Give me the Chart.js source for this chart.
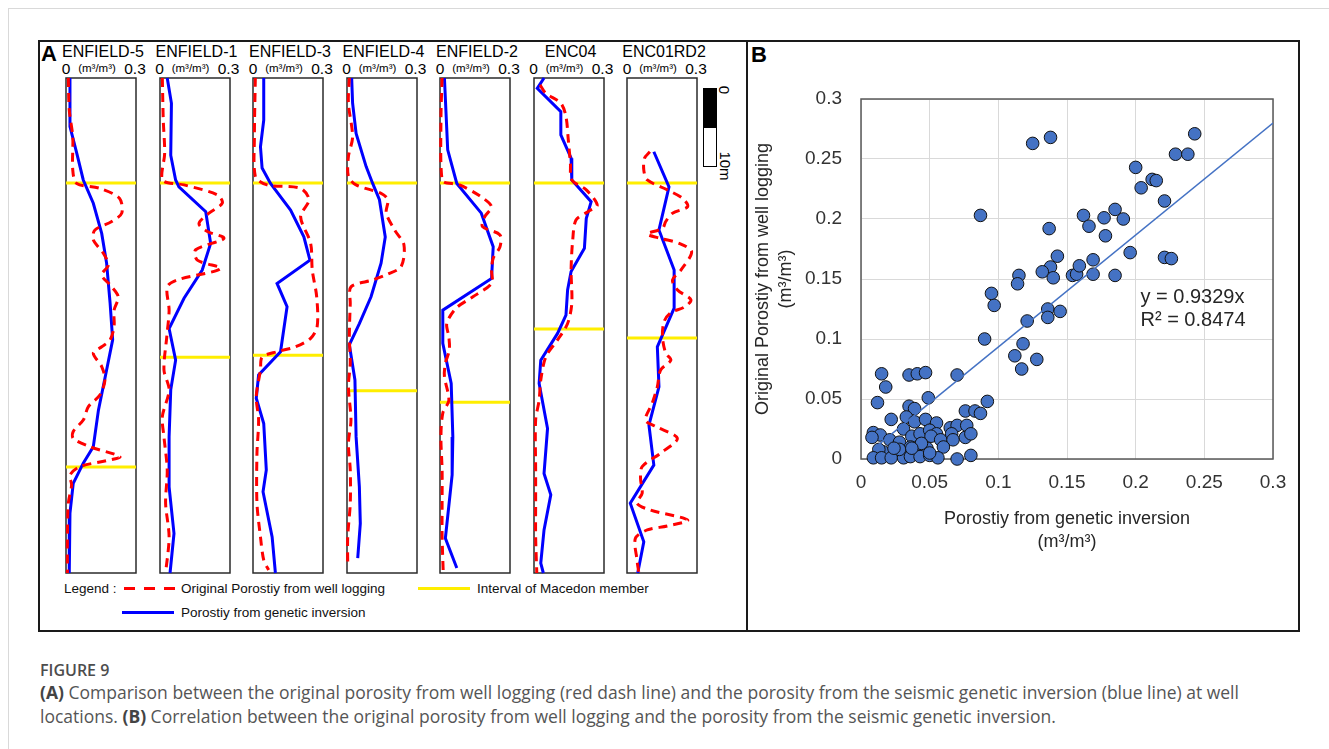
<!DOCTYPE html>
<html>
<head>
<meta charset="utf-8">
<script src="https://cdn.jsdelivr.net/npm/chart.js@4.4.1/dist/chart.umd.min.js"></script>
<style>
  html, body { margin: 0; padding: 0; background: #fff; }
  body { width: 1329px; height: 749px; position: relative; overflow: hidden; font-family: 'Liberation Sans', Arial, sans-serif; color: #000; }
  .abs { position: absolute; }
  .ctr { position: absolute; transform: translate(-50%, -50%); white-space: nowrap; line-height: 1; }
  .lft { position: absolute; transform: translateY(-50%); white-space: nowrap; line-height: 1; }
  .page-edge { left: 8px; top: 8px; right: 0; bottom: 0; border-left: 1px solid #d9d9d9; border-top: 1px solid #d9d9d9; }
  .fig-box { left: 38px; top: 40px; width: 1262px; height: 592px; border: 2px solid #1a1a1a; box-sizing: border-box; }
  .divider { left: 746px; top: 40px; width: 2px; height: 592px; background: #1a1a1a; }
  .tag { font-weight: bold; font-size: 22px; }
  .well-name { font-size: 16px; }
  .well-tick { font-size: 15.5px; }
  .well-unit { font-size: 11.5px; }
  .legend { font-size: 13.5px; color: #111; }
  .scalebar { left: 703px; top: 88px; width: 14px; height: 79px; border: 1.5px solid #000; box-sizing: border-box; }
  .scalebar div { width: 100%; height: 50%; background: #000; }
  .rot { font-size: 15px; }
  .caption-head { left: 40px; top: 659px; font-family: 'Open Sans', sans-serif; font-weight: 600; font-size: 16px; color: #4d4d4d; }
  .caption { left: 40px; top: 680px; font-family: 'Open Sans', sans-serif; font-size: 17.5px; line-height: 24px; color: #555; white-space: nowrap; }
  .caption b { color: #444; }
  canvas { position: absolute; }
</style>
</head>
<body>
<div class="abs page-edge"></div>
<div class="abs fig-box"></div>
<div class="abs divider"></div>
<div class="lft tag" style="left:41px;top:54px;">A</div>
<div class="lft tag" style="left:751px;top:55px;">B</div>

<div class="abs scalebar"><div></div></div>
<div class="ctr rot" style="left:724px;top:90px;transform:translate(-50%,-50%) rotate(90deg);">0</div>
<div class="ctr rot" style="left:725px;top:166px;transform:translate(-50%,-50%) rotate(90deg);">10m</div>

<div class="lft legend" style="left:64px;top:589px;">Legend :</div>
<div class="abs" style="left:124px;top:587px;width:54px;height:3px;background:repeating-linear-gradient(90deg,#ff0000 0 11px,transparent 11px 20px);"></div>
<div class="lft legend" style="left:181px;top:589px;">Original Porostiy from well logging</div>
<div class="abs" style="left:418px;top:587px;width:52px;height:3px;background:#ffee00;"></div>
<div class="lft legend" style="left:477px;top:589px;">Interval of Macedon member</div>
<div class="abs" style="left:122px;top:611px;width:52px;height:3px;background:#0000ff;"></div>
<div class="lft legend" style="left:181px;top:613px;">Porostiy from genetic inversion</div>

<div class="abs caption-head">FIGURE 9</div>
<div class="abs caption"><b>(A)</b> Comparison between the original porosity from well logging (red dash line) and the porosity from the seismic genetic inversion (blue line) at well<br>locations. <b>(B)</b> Correlation between the original porosity from well logging and the porosity from the seismic genetic inversion.</div>

<canvas id="scatter" width="549" height="492" style="left:750px;top:68px;"></canvas>

<script>
'use strict';

// ----------------------------
// Panel A data (depth is relative: 0 = top of track, 100 = bottom)
// ----------------------------
var WELLS = ['ENFIELD-5', 'ENFIELD-1', 'ENFIELD-3', 'ENFIELD-4', 'ENFIELD-2', 'ENC04', 'ENC01RD2'];
var PHI_RANGE = [0, 0.3];
var PHI_TICK_LABELS = ['0', '0.3'];
var PHI_UNIT = '(m\u00b3/m\u00b3)';
var DEPTH_RANGE = [0, 100];

var MACEDON_TOP = [21.2, 21.2, 21.2, 21.2, 21.2, 21.2, 21.2];
var MACEDON_BASE = [78.6, 56.4, 56.0, 63.2, 65.5, 50.7, 52.5];

// ENFIELD-5
var E5_INV_DEPTH = [0, 9.8, 15.2, 20.6, 25.3, 31.4, 37.4, 45.5, 52.9, 59.0, 67.1, 74.5, 77.8, 81.9, 87.9, 100];
var E5_INV_PHI = [0.017, 0.017, 0.046, 0.074, 0.117, 0.153, 0.174, 0.189, 0.200, 0.174, 0.139, 0.117, 0.074, 0.031, 0.017, 0.014];
var E5_LOG_DEPTH = [0, 6.5, 11.9, 18.6, 21.3, 22.3, 24.3, 27.3, 29.0, 30.7, 32.7, 35.4, 37.8, 39.8, 41.8, 44.2, 46.9, 50.2, 52.9, 54.3, 55.6, 58.3, 61.0, 64.0, 66.4, 69.1, 71.4, 72.8, 74.5, 76.5, 77.3, 78.5, 80.2, 82.2, 85.9, 92.7, 100];
var E5_LOG_PHI = [0.010, 0.014, 0.029, 0.029, 0.046, 0.146, 0.229, 0.239, 0.196, 0.124, 0.117, 0.160, 0.181, 0.153, 0.189, 0.224, 0.206, 0.206, 0.189, 0.153, 0.117, 0.153, 0.167, 0.146, 0.096, 0.074, 0.031, 0.031, 0.103, 0.231, 0.174, 0.060, 0.017, 0.024, 0.010, 0.006, 0.006];

// ENFIELD-1
var E1_INV_DEPTH = [0, 5.1, 15.6, 20.6, 22.0, 27.0, 33.4, 38.8, 44.5, 50.6, 57.0, 63.0, 72.5, 82.6, 92.0, 100];
var E1_INV_PHI = [0.031, 0.049, 0.046, 0.067, 0.081, 0.196, 0.217, 0.181, 0.103, 0.039, 0.067, 0.046, 0.039, 0.039, 0.060, 0.043];
var E1_LOG_DEPTH = [0, 8.5, 15.2, 20.6, 21.6, 23.6, 25.3, 27.3, 29.4, 31.0, 32.4, 34.7, 36.8, 38.5, 40.8, 42.2, 46.9, 52.3, 59.0, 63.0, 68.4, 72.5, 79.2, 85.9, 92.7, 100];
var E1_LOG_PHI = [0.010, 0.014, 0.020, 0.010, 0.103, 0.246, 0.267, 0.210, 0.167, 0.203, 0.274, 0.153, 0.160, 0.260, 0.074, 0.031, 0.039, 0.029, 0.017, 0.039, 0.010, 0.017, 0.031, 0.024, 0.039, 0.024];

// ENFIELD-3
var E3_INV_DEPTH = [0, 8.5, 13.9, 18.2, 21.3, 26.7, 32.1, 36.8, 41.5, 46.2, 55.3, 60.0, 64.7, 69.8, 79.2, 83.6, 92.7, 100];
var E3_INV_PHI = [0.046, 0.046, 0.032, 0.039, 0.075, 0.161, 0.218, 0.244, 0.103, 0.146, 0.118, 0.024, 0.014, 0.046, 0.057, 0.043, 0.082, 0.096];
var E3_LOG_DEPTH = [0, 11.9, 19.9, 21.6, 22.3, 24.6, 28.0, 33.4, 38.8, 44.2, 50.2, 52.6, 54.3, 55.3, 56.4, 59.0, 64.4, 69.1, 75.8, 85.9, 92.7, 97.4, 99.4];
var E3_LOG_PHI = [0.010, 0.006, 0.010, 0.060, 0.204, 0.240, 0.204, 0.247, 0.254, 0.273, 0.275, 0.247, 0.182, 0.103, 0.039, 0.032, 0.014, 0.024, 0.017, 0.017, 0.032, 0.046, 0.067];

// ENFIELD-4
var E4_INV_DEPTH = [0, 5.1, 11.2, 17.9, 21.3, 24.6, 32.1, 37.4, 44.2, 49.6, 53.9, 61.0, 72.5, 82.6, 90.0, 97.0];
var E4_INV_PHI = [0.020, 0.024, 0.039, 0.082, 0.110, 0.139, 0.164, 0.146, 0.103, 0.053, 0.010, 0.034, 0.039, 0.053, 0.057, 0.046];
var E4_LOG_DEPTH = [0, 5.1, 11.9, 15.9, 19.9, 21.6, 23.3, 24.6, 27.3, 30.7, 33.7, 38.1, 39.6, 40.8, 42.2, 45.5, 52.3, 57.6, 62.4, 69.1, 73.8, 79.2, 85.9, 92.7, 98.0];
var E4_LOG_PHI = [0.010, 0.006, 0.024, 0.006, 0.006, 0.039, 0.146, 0.175, 0.168, 0.204, 0.244, 0.232, 0.175, 0.110, 0.017, 0.014, 0.010, 0.014, 0.006, 0.017, 0.006, 0.014, 0.014, 0.003, 0.003];

// ENFIELD-2
var E2_INV_DEPTH = [0, 14.5, 21.3, 27.3, 34.1, 40.5, 46.9, 53.6, 61.7, 72.5, 80.2, 93.0, 99.0];
var E2_INV_PHI = [0.019, 0.033, 0.072, 0.177, 0.228, 0.221, 0.012, 0.012, 0.048, 0.055, 0.052, 0.023, 0.072];
var E2_LOG_DEPTH = [0, 8.5, 20.6, 21.6, 23.8, 26.0, 28.0, 30.0, 31.7, 34.1, 36.4, 38.8, 41.5, 44.2, 46.5, 49.6, 52.3, 55.0, 57.6, 60.3, 65.1, 67.7, 72.5, 79.2, 85.9, 92.6, 100];
var E2_LOG_PHI = [0.009, 0.004, 0.009, 0.084, 0.170, 0.221, 0.192, 0.182, 0.257, 0.257, 0.228, 0.221, 0.221, 0.141, 0.069, 0.029, 0.038, 0.040, 0.023, 0.019, 0.038, 0.012, 0.004, 0.009, 0.009, 0.009, 0.014];

// ENC04
var C4_INV_DEPTH = [0, 2.1, 6.8, 11.5, 16.2, 20.6, 25.0, 28.4, 34.4, 39.1, 42.8, 47.9, 51.6, 57.0, 61.7, 70.8, 79.9, 84.2, 91.3, 98.0, 100];
var C4_INV_PHI = [0.043, 0.014, 0.115, 0.115, 0.159, 0.162, 0.245, 0.224, 0.216, 0.159, 0.144, 0.137, 0.101, 0.029, 0.022, 0.058, 0.043, 0.072, 0.043, 0.029, 0.040];
var C4_LOG_DEPTH = [1.4, 3.1, 5.1, 7.8, 12.5, 17.2, 20.6, 22.6, 25.7, 27.0, 28.7, 32.7, 38.8, 45.5, 49.6, 52.9, 56.3, 61.0, 65.1, 69.1, 79.2, 85.9, 92.7, 100];
var C4_LOG_PHI = [0.026, 0.051, 0.115, 0.137, 0.147, 0.156, 0.162, 0.224, 0.271, 0.231, 0.180, 0.166, 0.159, 0.162, 0.144, 0.101, 0.051, 0.029, 0.022, 0.007, 0.007, 0.007, 0.007, 0.012];

// ENC01RD2
var C1_INV_DEPTH = [14.9, 22.0, 30.7, 38.8, 46.5, 54.3, 62.4, 70.1, 78.2, 85.9, 93.7, 100];
var C1_INV_PHI = [0.115, 0.180, 0.137, 0.202, 0.202, 0.130, 0.137, 0.094, 0.115, 0.014, 0.072, 0.046];
var C1_LOG_DEPTH = [14.9, 16.2, 18.6, 20.6, 22.6, 24.3, 26.0, 27.3, 29.0, 30.4, 31.5, 32.4, 33.4, 35.1, 38.8, 40.8, 42.8, 44.8, 46.3, 47.4, 49.2, 52.3, 55.6, 57.0, 59.0, 62.4, 65.7, 69.1, 70.4, 72.8, 75.8, 78.5, 80.9, 83.9, 85.9, 87.3, 89.3, 90.5, 91.3, 93.0, 97.4, 100];
var C1_LOG_PHI = [0.098, 0.075, 0.072, 0.087, 0.173, 0.238, 0.260, 0.195, 0.166, 0.152, 0.087, 0.144, 0.224, 0.277, 0.231, 0.195, 0.216, 0.274, 0.245, 0.188, 0.159, 0.152, 0.166, 0.188, 0.144, 0.130, 0.108, 0.079, 0.123, 0.216, 0.144, 0.065, 0.058, 0.065, 0.043, 0.101, 0.260, 0.173, 0.087, 0.036, 0.043, 0.051];

var INV_DEPTH = [E5_INV_DEPTH, E1_INV_DEPTH, E3_INV_DEPTH, E4_INV_DEPTH, E2_INV_DEPTH, C4_INV_DEPTH, C1_INV_DEPTH];
var INV_PHI = [E5_INV_PHI, E1_INV_PHI, E3_INV_PHI, E4_INV_PHI, E2_INV_PHI, C4_INV_PHI, C1_INV_PHI];
var LOG_DEPTH = [E5_LOG_DEPTH, E1_LOG_DEPTH, E3_LOG_DEPTH, E4_LOG_DEPTH, E2_LOG_DEPTH, C4_LOG_DEPTH, C1_LOG_DEPTH];
var LOG_PHI = [E5_LOG_PHI, E1_LOG_PHI, E3_LOG_PHI, E4_LOG_PHI, E2_LOG_PHI, C4_LOG_PHI, C1_LOG_PHI];

// ----------------------------
// Panel B data
// ----------------------------
var SCATTER_X = [0.125, 0.138, 0.243, 0.229, 0.238, 0.200, 0.212, 0.215, 0.204, 0.221, 0.087, 0.137, 0.162, 0.166, 0.177, 0.185, 0.191, 0.178, 0.196, 0.221, 0.226, 0.143, 0.138, 0.132, 0.140, 0.115, 0.114, 0.154, 0.157, 0.159, 0.169, 0.169, 0.185, 0.095, 0.097, 0.136, 0.136, 0.145, 0.121, 0.090, 0.118, 0.112, 0.128, 0.117,
  0.015, 0.035, 0.041, 0.047, 0.070, 0.018, 0.012, 0.049, 0.092, 0.076, 0.083, 0.087, 0.035, 0.039, 0.022, 0.033, 0.039, 0.047, 0.055, 0.065, 0.070, 0.077, 0.031, 0.009, 0.014, 0.008, 0.021, 0.028, 0.037, 0.043, 0.050, 0.055, 0.051, 0.058, 0.066, 0.067, 0.076, 0.080, 0.060, 0.036, 0.041, 0.048, 0.016, 0.013, 0.009, 0.015, 0.022, 0.031, 0.036, 0.043, 0.050, 0.056, 0.070, 0.080, 0.028, 0.024, 0.044, 0.050, 0.037];
var SCATTER_Y = [0.263, 0.268, 0.271, 0.254, 0.254, 0.243, 0.233, 0.232, 0.226, 0.215, 0.203, 0.192, 0.203, 0.194, 0.201, 0.208, 0.200, 0.186, 0.172, 0.168, 0.167, 0.169, 0.160, 0.156, 0.151, 0.153, 0.146, 0.153, 0.154, 0.161, 0.166, 0.154, 0.153, 0.138, 0.128, 0.125, 0.118, 0.123, 0.115, 0.100, 0.096, 0.086, 0.083, 0.075,
  0.071, 0.070, 0.071, 0.072, 0.070, 0.060, 0.047, 0.051, 0.048, 0.040, 0.040, 0.038, 0.044, 0.042, 0.033, 0.035, 0.031, 0.033, 0.030, 0.026, 0.028, 0.028, 0.025, 0.022, 0.020, 0.018, 0.016, 0.014, 0.019, 0.021, 0.024, 0.021, 0.019, 0.016, 0.021, 0.016, 0.018, 0.021, 0.010, 0.010, 0.006, 0.009, 0.006, 0.008, 0.001, 0.001, 0.001, 0.001, 0.002, 0.002, 0.003, 0.001, 0.000, 0.003, 0.008, 0.009, 0.013, 0.005, 0.009];
var AXIS_TICKS = [0, 0.05, 0.1, 0.15, 0.2, 0.25, 0.3];
var AXIS_TICK_LABELS = ['0', '0.05', '0.1', '0.15', '0.2', '0.25', '0.3'];
var X_TITLE = ['Porostiy from genetic inversion', '(m\u00b3/m\u00b3)'];
var Y_TITLE = ['Original Porostiy from well logging', '(m\u00b3/m\u00b3)'];
var TREND_SLOPE = 0.9329;
var TREND_R2 = 0.8474;
var TREND_X = [0.009, 0.3];

// ----------------------------
// Helpers
// ----------------------------
var FONT = "'Liberation Sans', Arial, sans-serif";
var TRACK_LEFT = 66, TRACK_STEP = 93.5, TRACK_TOP = 78, TRACK_W = 70, TRACK_H = 495, TRACK_PAD = 4;

Chart.defaults.font.family = FONT;

/**
 * Pairs two value lists into chart points
 */
function toPoints(xs, ys) {
    return xs.map(function (x, i) { return {x: x, y: ys[i]}; });
}

/**
 * Adds a text label at a page position
 */
function addText(cls, text, left, top) {
    var el = document.createElement('div');
    el.className = cls;
    el.textContent = text;
    el.style.left = left + 'px';
    el.style.top = top + 'px';
    document.body.appendChild(el);
}

var trackFrame = {
    id: 'trackFrame',
    beforeDatasetsDraw: function (chart) {
        var a = chart.chartArea;
        var ctx = chart.ctx;
        ctx.save();
        ctx.strokeStyle = '#2b2b2b';
        ctx.lineWidth = 1.5;
        ctx.strokeRect(a.left, a.top, a.right - a.left, a.bottom - a.top);
        ctx.restore();
    }
};

/**
 * Builds one well track
 */
function buildTrack(i) {
    var left = TRACK_LEFT + i * TRACK_STEP;
    addText('ctr well-name', WELLS[i], left + TRACK_W / 2 + 2, 52);
    addText('ctr well-tick', PHI_TICK_LABELS[0], left, 69);
    addText('ctr well-tick', PHI_TICK_LABELS[1], left + TRACK_W - 1, 69);
    addText('ctr well-unit', PHI_UNIT, left + TRACK_W / 2 - 4, 69);

    var canvas = document.createElement('canvas');
    canvas.width = TRACK_W + 2 * TRACK_PAD;
    canvas.height = TRACK_H + 2 * TRACK_PAD;
    canvas.style.left = (left - TRACK_PAD) + 'px';
    canvas.style.top = (TRACK_TOP - TRACK_PAD) + 'px';
    document.body.appendChild(canvas);

    var line = {showLine: true, pointRadius: 0, fill: false, clip: 3};
    new Chart(canvas.getContext('2d'), {
        type: 'scatter',
        data: {
            datasets: [
                Object.assign({label: 'Original Porostiy from well logging', data: toPoints(LOG_PHI[i], LOG_DEPTH[i]),
                    borderColor: '#ff0000', borderWidth: 3, borderDash: [9, 6], tension: 0.3}, line),
                Object.assign({label: 'Porostiy from genetic inversion', data: toPoints(INV_PHI[i], INV_DEPTH[i]),
                    borderColor: '#0000ff', borderWidth: 3, tension: 0}, line),
                Object.assign({label: 'Macedon top', data: toPoints(PHI_RANGE, [MACEDON_TOP[i], MACEDON_TOP[i]]),
                    borderColor: '#ffee00', borderWidth: 3}, line),
                Object.assign({label: 'Macedon base', data: toPoints(PHI_RANGE, [MACEDON_BASE[i], MACEDON_BASE[i]]),
                    borderColor: '#ffee00', borderWidth: 3}, line)
            ]
        },
        options: {
            responsive: false,
            animation: false,
            layout: {padding: TRACK_PAD},
            plugins: {legend: {display: false}, tooltip: {enabled: false}},
            scales: {
                x: {type: 'linear', min: PHI_RANGE[0], max: PHI_RANGE[1], display: false},
                y: {type: 'linear', min: DEPTH_RANGE[0], max: DEPTH_RANGE[1], reverse: true, display: false}
            }
        },
        plugins: [trackFrame]
    });
}

for (var i = 0; i < WELLS.length; i++) {
    buildTrack(i);
}

// ----------------------------
// Panel B scatter
// ----------------------------
var plotFrame = {
    id: 'plotFrame',
    beforeDatasetsDraw: function (chart) {
        var a = chart.chartArea;
        var ctx = chart.ctx;
        ctx.save();
        ctx.strokeStyle = '#595959';
        ctx.lineWidth = 1.5;
        ctx.strokeRect(a.left, a.top, a.right - a.left, a.bottom - a.top);
        ctx.restore();
    },
    afterDraw: function (chart) {
        var ctx = chart.ctx;
        var x = chart.scales.x.getPixelForValue(0.2035);
        var y = chart.scales.y.getPixelForValue(0.135);
        ctx.save();
        ctx.font = '20px ' + FONT;
        ctx.fillStyle = '#262626';
        ctx.textAlign = 'left';
        ctx.textBaseline = 'middle';
        ctx.fillText('y = ' + TREND_SLOPE + 'x', x, y);
        ctx.fillText('R\u00b2 = ' + TREND_R2, x, y + 23);
        ctx.restore();
    }
};

function axis(title, ticksPadding) {
    return {
        type: 'linear',
        min: AXIS_TICKS[0],
        max: AXIS_TICKS[AXIS_TICKS.length - 1],
        afterBuildTicks: function (scale) {
            scale.ticks = AXIS_TICKS.map(function (v) { return {value: v}; });
        },
        ticks: {
            autoSkip: false,
            maxRotation: 0,
            padding: ticksPadding,
            color: '#333',
            font: {size: 19},
            callback: function (value, index) { return AXIS_TICK_LABELS[index]; }
        },
        grid: {color: '#d9d9d9', lineWidth: 1, drawTicks: false},
        border: {display: false},
        title: {display: true, text: title, color: '#262626', font: {size: 18, lineHeight: 1.25}}
    };
}

var xAxis = axis(X_TITLE, 12);
xAxis.title.padding = {top: 0, bottom: 7};
xAxis.afterFit = function (scale) { scale.height = 101; };
var yAxis = axis(Y_TITLE, 19);
yAxis.title.padding = {top: 2, bottom: 0};
yAxis.afterFit = function (scale) { scale.width = 111; };

new Chart(document.getElementById('scatter').getContext('2d'), {
    type: 'scatter',
    data: {
        datasets: [
            {
                label: 'Trend',
                data: toPoints(TREND_X, TREND_X.map(function (x) { return TREND_SLOPE * x; })),
                showLine: true,
                borderColor: '#4472c4',
                borderWidth: 1.5,
                pointRadius: 0,
                order: 0
            },
            {
                label: 'Samples',
                data: toPoints(SCATTER_X, SCATTER_Y),
                backgroundColor: '#4472c4',
                borderColor: '#111',
                borderWidth: 1,
                pointRadius: 6.3,
                clip: false,
                order: 1
            }
        ]
    },
    options: {
        responsive: false,
        animation: false,
        layout: {padding: {left: 0, top: 31, right: 26, bottom: 0}},
        plugins: {legend: {display: false}, tooltip: {enabled: false}},
        scales: {x: xAxis, y: yAxis}
    },
    plugins: [plotFrame]
});
</script>
</body>
</html>
